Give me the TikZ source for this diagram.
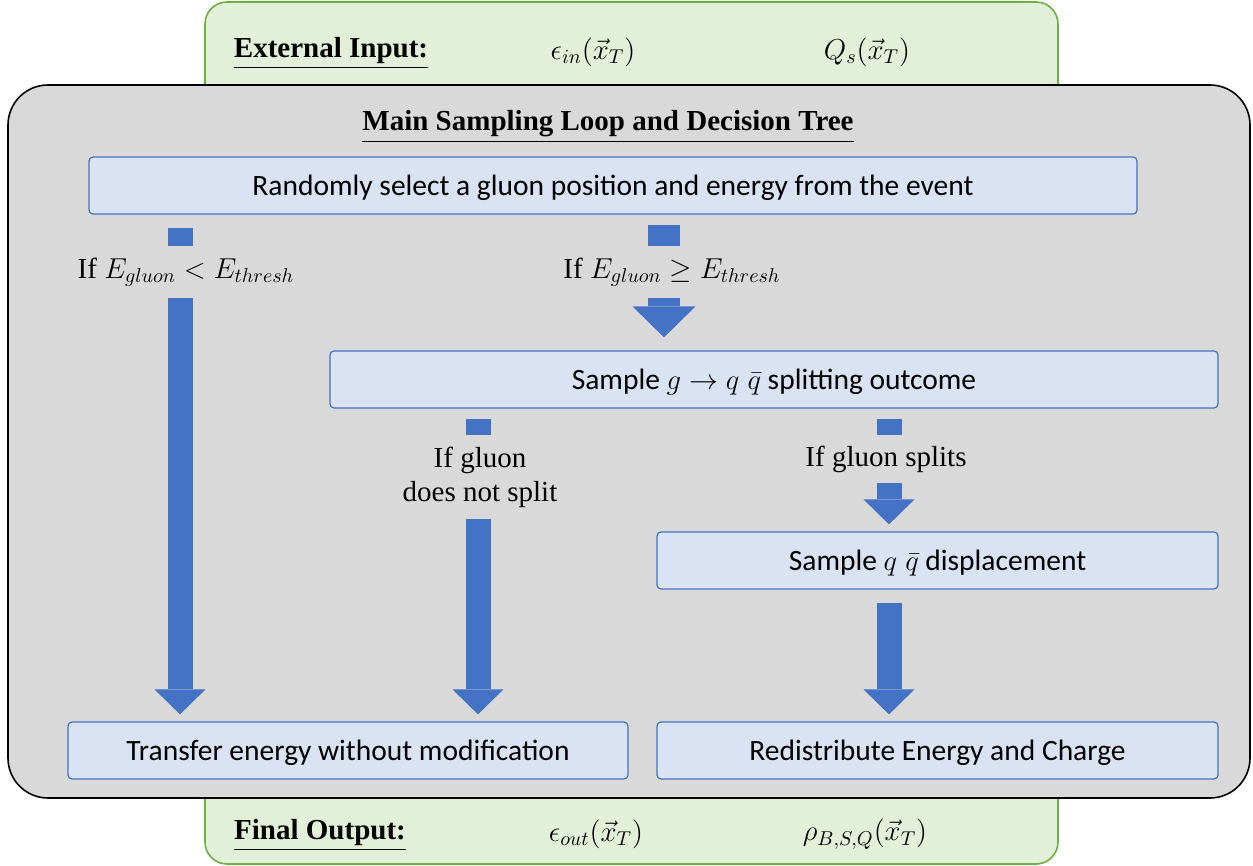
\documentclass[tikz,border=0pt]{standalone}
\usepackage{fontspec}
\setmainfont{Liberation Serif}
\newfontfamily\boxfont{Carlito}
\usepackage{amsmath,amssymb}
\usepackage{xcolor}
\usepackage{tikz}
\usetikzlibrary{arrows.meta}

\definecolor{greenfill}{HTML}{E2F0D9}
\definecolor{greenline}{HTML}{70AD47}
\definecolor{mainfill}{HTML}{D9D9D9}
\definecolor{boxfill}{HTML}{DAE3F3}
\definecolor{boxline}{HTML}{4472C4}
\definecolor{flowblue}{HTML}{4472C4}

\tikzset{
    stagebox/.style = {draw = boxline, fill = boxfill, rounded corners = 2pt, line width = 0.6pt,
        font = \boxfont\fontsize{14.75}{17}\selectfont, inner sep = 0pt, minimum height = 28.5pt,
        text height = 12.5pt, text depth = 2.5pt},
    iobox/.style = {draw = greenline, fill = greenfill, rounded corners = 11pt, line width = 0.8pt},
    cond/.style = {fill = mainfill, font = \fontsize{14.5}{17}\selectfont, inner sep = 0pt, align = center},
    iotext/.style = {font = \fontsize{14.5}{17}\selectfont, inner sep = 0pt},
    flow/.style = {draw = flowblue, line width = 12.5pt,
        -{Triangle[width = 25.5pt, length = 12.5pt, line width = 0pt]}},
    bigflow/.style = {draw = flowblue, line width = 16pt,
        -{Triangle[width = 31.5pt, length = 15.5pt, line width = 0pt]}}
}

\begin{document}
\begin{tikzpicture}[x = 0.5pt, y = -0.5pt]
    \useasboundingbox (0, 0) rectangle (1253, 866);

    % draw input and output panels
    \draw[iobox] (205, 2) rectangle (1058, 120);
    \draw[iobox] (205, 760) rectangle (1058, 864);

    \node[iotext] (inlabel) at (331, 53) {\underline{\textbf{External Input:}}};
    \node[iotext] (inenergy) at (593, 52) {$\epsilon_{in}(\vec{x}_T)$};
    \node[iotext] (insat) at (867, 52) {$Q_s(\vec{x}_T)$};

    \node[iotext] (outlabel) at (320, 835) {\underline{\textbf{Final Output:}}};
    \node[iotext] (outenergy) at (596, 834) {$\epsilon_{out}(\vec{x}_T)$};
    \node[iotext] (outcharge) at (865, 834) {$\rho_{B,S,Q}(\vec{x}_T)$};


    % draw main loop panel
    \draw[fill = mainfill, rounded corners = 20pt, line width = 0.8pt] (8, 85) rectangle (1250, 798);
    \node[iotext] (looptitle) at (608, 127) {\underline{\textbf{Main Sampling Loop and Decision Tree}}};


    % draw steps
    \node[stagebox, minimum width = 524pt] (select) at (613, 185.5)
        {Randomly select a gluon position and energy from the event};
    \node[stagebox, minimum width = 444pt] (splitting) at (774, 379.5)
        {Sample $g \rightarrow q\;\bar{q}$ splitting outcome};
    \node[stagebox, minimum width = 280.5pt] (displace) at (937.5, 560.5)
        {Sample $q\;\bar{q}$ displacement};
    \node[stagebox, minimum width = 280pt] (transfer) at (348, 750.5)
        {Transfer energy without modification};
    \node[stagebox, minimum width = 280.5pt] (redistribute) at (937.5, 750.5)
        {Redistribute Energy and Charge};


    % draw block arrows
    \coordinate (colA) at (180, 0);
    \coordinate (colB) at (664, 0);
    \coordinate (colC) at (478, 0);
    \coordinate (colD) at (889, 0);

    \draw[flow, shorten <= 6.5pt, shorten >= 3.5pt] (select.south -| colA) -- (transfer.north -| colA);
    \draw[bigflow, shorten <= 5pt, shorten >= 6.5pt] (select.south -| colB) -- (splitting.north -| colB);
    \draw[flow, shorten <= 5pt, shorten >= 3.5pt] (splitting.south -| colC) -- (transfer.north -| colC);
    \draw[flow, shorten <= 5pt, shorten >= 3.5pt] (splitting.south -| colD) -- (displace.north -| colD);
    \draw[flow, shorten <= 6.5pt, shorten >= 3.5pt] (displace.south -| colD) -- (redistribute.north -| colD);


    % draw conditions
    \node[cond, minimum height = 26pt] (below) at (186, 272) {If $E_{gluon} < E_{thresh}$};
    \node[cond, minimum height = 26pt] (above) at (672, 272) {If $E_{gluon} \geq E_{thresh}$};
    \node[cond, minimum height = 42pt] (nosplit) at (480, 477) {If gluon\\does not split};
    \node[cond, minimum height = 24pt] (split) at (886, 459) {If gluon splits};

\end{tikzpicture}
\end{document}
